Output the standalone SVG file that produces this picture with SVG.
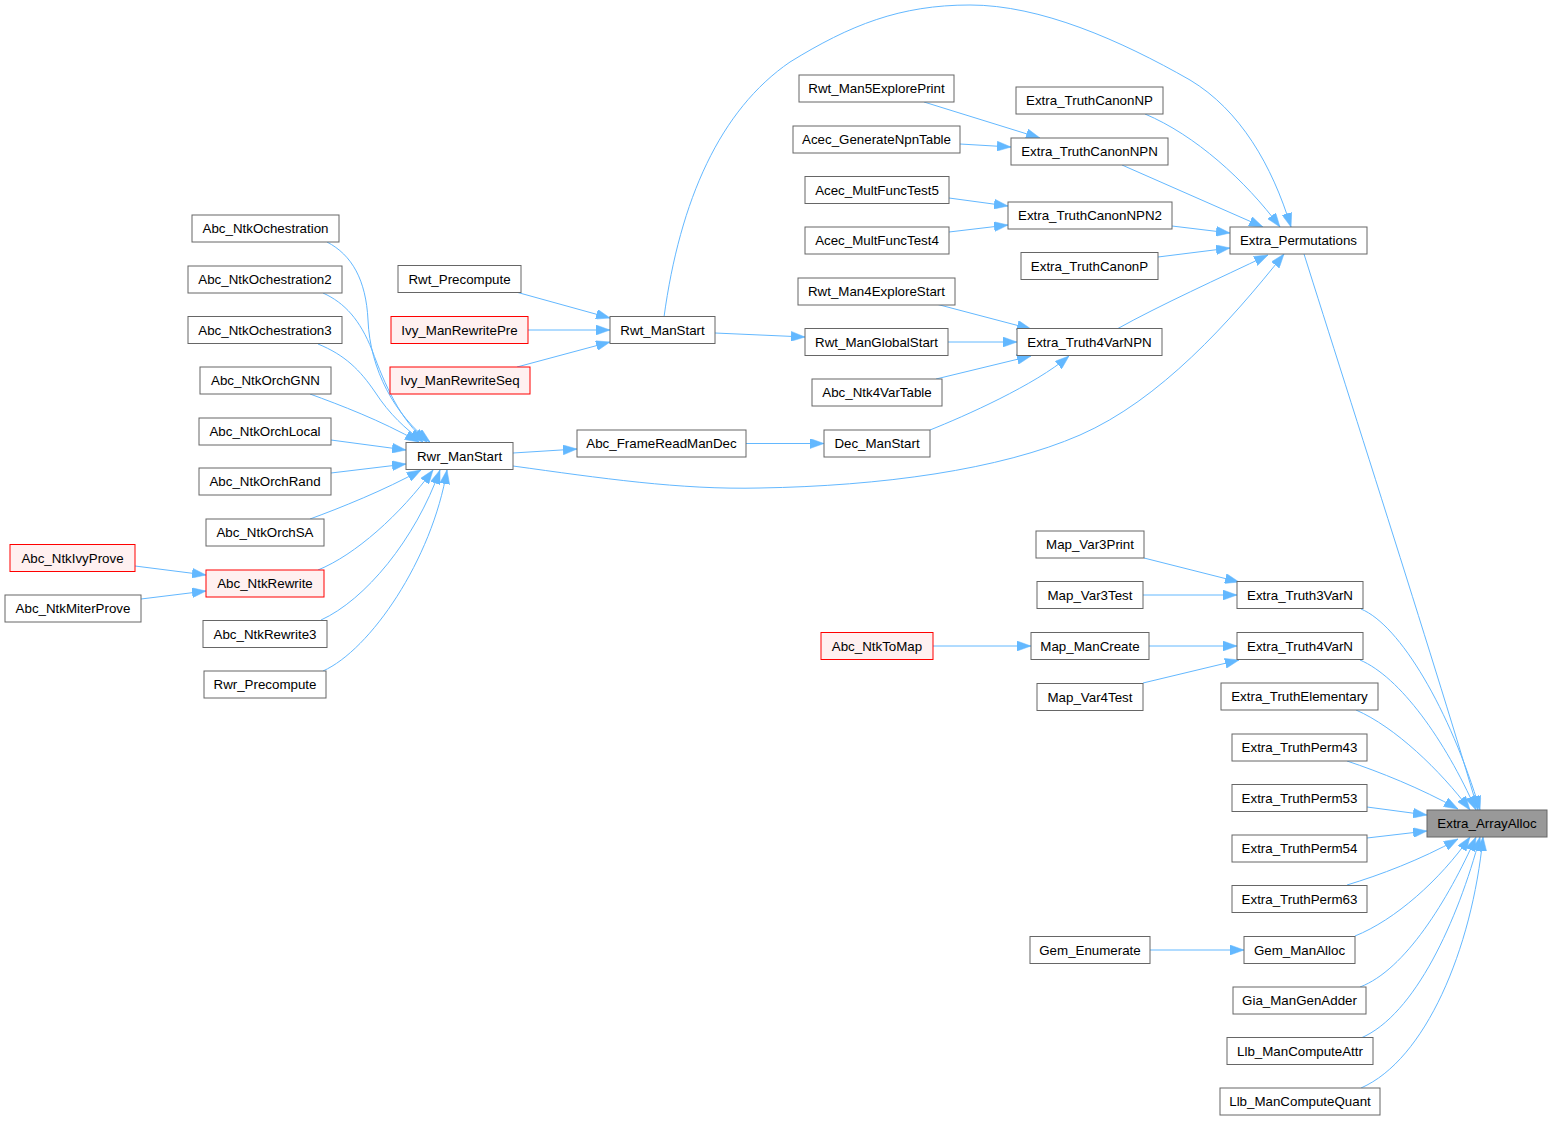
<svg xmlns="http://www.w3.org/2000/svg" width="1550" height="1121" viewBox="0 0 1550 1121">
<style>
.n rect{fill:#ffffff;stroke:#666666;stroke-width:1}
.r rect{fill:#fff0f0;stroke:#ff0000;stroke-width:1}
.g rect{fill:#999999;stroke:#666666;stroke-width:1}
text{font-family:"Liberation Sans",Arial,Helvetica,sans-serif;font-size:13.33px;text-anchor:middle;fill:#000000}
#edges path{fill:none;stroke:#63b8ff;stroke-width:1;marker-end:url(#ah)}
</style>
<defs>
<marker id="ah" viewBox="0 0 14 10" markerWidth="14" markerHeight="10" markerUnits="userSpaceOnUse" refX="14" refY="5" orient="auto">
<path d="M0,0 L14,5 L0,10 z" fill="#63b8ff" stroke="#63b8ff" stroke-width="0.5"/>
</marker>
</defs>
<rect x="0" y="0" width="1550" height="1121" fill="#ffffff"/>
<g id="edges">
<path d="M327,242 C352,255 366,280 368,320 C370,370 395,415 430,442"/>
<path d="M323,293 C345,303 360,320 372,350 C385,385 400,420 427,442"/>
<path d="M318,344 C345,355 360,370 375,392 C390,415 405,428 423,442"/>
<path d="M310,394 C340,405 380,420 419,442"/>
<path d="M331,440 L406,450"/>
<path d="M331,473 L406,464"/>
<path d="M310,519 C340,508 385,490 421,470"/>
<path d="M318,570 C355,555 400,515 433,470"/>
<path d="M321,620 C365,600 415,540 440,470"/>
<path d="M323,671 C370,650 432,560 447,470"/>
<path d="M135,566 L206,575"/>
<path d="M141,599 L206,591"/>
<path d="M513,453 L577,449"/>
<path d="M513,466 C600,478 680,490 760,488 C880,486 1000,470 1080,435 C1160,400 1230,322 1284,254"/>
<path d="M746,443.5 L824,443.5"/>
<path d="M930,430 C965,416 1035,385 1069,356"/>
<path d="M516,292 L610,318"/>
<path d="M528,330 L610,330"/>
<path d="M517,367 L610,342"/>
<path d="M715,333 L805,337"/>
<path d="M664,317 C680,200 720,110 790,62 C850,25 900,5 970,5 C1040,5 1120,40 1190,80 C1240,110 1272,165 1291,227"/>
<path d="M936,304 L1031,329"/>
<path d="M948,342 L1017,342"/>
<path d="M936,379 L1031,356"/>
<path d="M1117,329 C1160,305 1220,278 1268,255"/>
<path d="M924,102 L1040,138"/>
<path d="M960,144 L1011,147"/>
<path d="M949,198 L1008,206"/>
<path d="M949,232 L1008,225"/>
<path d="M1145,114 C1195,135 1245,180 1280,227"/>
<path d="M1122,165 L1263,227"/>
<path d="M1172,226 L1230,233"/>
<path d="M1158,257 L1230,248"/>
<path d="M1304,254 C1350,400 1440,680 1478,810"/>
<path d="M1144,558 L1239,582"/>
<path d="M1143,595 L1237,595"/>
<path d="M933,646 L1031,646"/>
<path d="M1149,646 L1237,646"/>
<path d="M1143,683 L1239,660"/>
<path d="M1150,950 L1244,950"/>
<path d="M1361,609 C1400,625 1450,710 1480,810"/>
<path d="M1360,660 C1400,677 1445,740 1476,810"/>
<path d="M1356,710 C1395,727 1440,770 1470,810"/>
<path d="M1347,761 C1380,772 1420,788 1458,809"/>
<path d="M1367,807 L1427,815"/>
<path d="M1367,838 L1427,831"/>
<path d="M1347,885 C1380,875 1420,860 1458,839"/>
<path d="M1355,936 C1395,920 1440,880 1470,837"/>
<path d="M1360,987 C1405,970 1448,900 1476,837"/>
<path d="M1361,1038 C1415,1015 1458,920 1480,837"/>
<path d="M1361,1088 C1425,1060 1472,950 1483,837"/>
</g>
<g id="n1" class="n"><rect x="192" y="215" width="147" height="27"/><text x="265.5" y="233">Abc_NtkOchestration</text></g>
<g id="n2" class="n"><rect x="188" y="266" width="154" height="27"/><text x="265" y="284">Abc_NtkOchestration2</text></g>
<g id="n3" class="n"><rect x="188" y="316.5" width="154" height="27"/><text x="265" y="334.5">Abc_NtkOchestration3</text></g>
<g id="n4" class="n"><rect x="200" y="367" width="131" height="27"/><text x="265.5" y="385">Abc_NtkOrchGNN</text></g>
<g id="n5" class="n"><rect x="199" y="418" width="132" height="27"/><text x="265" y="436">Abc_NtkOrchLocal</text></g>
<g id="n6" class="n"><rect x="199" y="468" width="132" height="27"/><text x="265" y="486">Abc_NtkOrchRand</text></g>
<g id="n7" class="n"><rect x="206" y="519" width="118" height="27"/><text x="265" y="537">Abc_NtkOrchSA</text></g>
<g id="n8" class="r"><rect x="206" y="570" width="118" height="27"/><text x="265" y="588">Abc_NtkRewrite</text></g>
<g id="n9" class="n"><rect x="203" y="620.5" width="124" height="27"/><text x="265" y="638.5">Abc_NtkRewrite3</text></g>
<g id="n10" class="n"><rect x="204" y="671" width="122" height="27"/><text x="265" y="689">Rwr_Precompute</text></g>
<g id="n11" class="r"><rect x="10" y="544.5" width="125" height="27"/><text x="72.5" y="562.5">Abc_NtkIvyProve</text></g>
<g id="n12" class="n"><rect x="5" y="595" width="136" height="27"/><text x="73" y="613">Abc_NtkMiterProve</text></g>
<g id="n13" class="n"><rect x="406" y="442.5" width="107" height="27"/><text x="459.5" y="460.5">Rwr_ManStart</text></g>
<g id="n14" class="n"><rect x="398" y="265.5" width="123" height="27"/><text x="459.5" y="283.5">Rwt_Precompute</text></g>
<g id="n15" class="r"><rect x="391" y="316.5" width="137" height="27"/><text x="459.5" y="334.5">Ivy_ManRewritePre</text></g>
<g id="n16" class="r"><rect x="390" y="367" width="140" height="27"/><text x="460" y="385">Ivy_ManRewriteSeq</text></g>
<g id="n17" class="n"><rect x="610" y="316.5" width="105" height="27"/><text x="662.5" y="334.5">Rwt_ManStart</text></g>
<g id="n18" class="n"><rect x="577" y="430" width="169" height="27"/><text x="661.5" y="448">Abc_FrameReadManDec</text></g>
<g id="n19" class="n"><rect x="824" y="430" width="106" height="27"/><text x="877" y="448">Dec_ManStart</text></g>
<g id="n20" class="n"><rect x="799" y="75" width="155" height="27"/><text x="876.5" y="93">Rwt_Man5ExplorePrint</text></g>
<g id="n21" class="n"><rect x="793" y="126" width="167" height="27"/><text x="876.5" y="144">Acec_GenerateNpnTable</text></g>
<g id="n22" class="n"><rect x="805" y="176.5" width="144" height="27"/><text x="877" y="194.5">Acec_MultFuncTest5</text></g>
<g id="n23" class="n"><rect x="805" y="227" width="144" height="27"/><text x="877" y="245">Acec_MultFuncTest4</text></g>
<g id="n24" class="n"><rect x="798" y="278" width="157" height="27"/><text x="876.5" y="296">Rwt_Man4ExploreStart</text></g>
<g id="n25" class="n"><rect x="805" y="328.5" width="143" height="27"/><text x="876.5" y="346.5">Rwt_ManGlobalStart</text></g>
<g id="n26" class="n"><rect x="812" y="379" width="130" height="27"/><text x="877" y="397">Abc_Ntk4VarTable</text></g>
<g id="n27" class="n"><rect x="1016" y="87" width="147" height="27"/><text x="1089.5" y="105">Extra_TruthCanonNP</text></g>
<g id="n28" class="n"><rect x="1011" y="138" width="157" height="27"/><text x="1089.5" y="156">Extra_TruthCanonNPN</text></g>
<g id="n29" class="n"><rect x="1008" y="202" width="164" height="27"/><text x="1090" y="220">Extra_TruthCanonNPN2</text></g>
<g id="n30" class="n"><rect x="1021" y="252.5" width="137" height="27"/><text x="1089.5" y="270.5">Extra_TruthCanonP</text></g>
<g id="n31" class="n"><rect x="1017" y="328.5" width="145" height="27"/><text x="1089.5" y="346.5">Extra_Truth4VarNPN</text></g>
<g id="n32" class="n"><rect x="1230" y="227" width="137" height="27"/><text x="1298.5" y="245">Extra_Permutations</text></g>
<g id="n33" class="g"><rect x="1427" y="810" width="120" height="27"/><text x="1487" y="828">Extra_ArrayAlloc</text></g>
<g id="n34" class="n"><rect x="1036" y="531" width="108" height="27"/><text x="1090" y="549">Map_Var3Print</text></g>
<g id="n35" class="n"><rect x="1037" y="581.5" width="106" height="27"/><text x="1090" y="599.5">Map_Var3Test</text></g>
<g id="n36" class="r"><rect x="821" y="632.5" width="112" height="27"/><text x="877" y="650.5">Abc_NtkToMap</text></g>
<g id="n37" class="n"><rect x="1031" y="632.5" width="118" height="27"/><text x="1090" y="650.5">Map_ManCreate</text></g>
<g id="n38" class="n"><rect x="1037" y="683.5" width="106" height="27"/><text x="1090" y="701.5">Map_Var4Test</text></g>
<g id="n39" class="n"><rect x="1237" y="581.5" width="126" height="27"/><text x="1300" y="599.5">Extra_Truth3VarN</text></g>
<g id="n40" class="n"><rect x="1237" y="632.5" width="126" height="27"/><text x="1300" y="650.5">Extra_Truth4VarN</text></g>
<g id="n41" class="n"><rect x="1221" y="683" width="157" height="27"/><text x="1299.5" y="701">Extra_TruthElementary</text></g>
<g id="n42" class="n"><rect x="1232" y="734" width="135" height="27"/><text x="1299.5" y="752">Extra_TruthPerm43</text></g>
<g id="n43" class="n"><rect x="1232" y="784.5" width="135" height="27"/><text x="1299.5" y="802.5">Extra_TruthPerm53</text></g>
<g id="n44" class="n"><rect x="1232" y="835" width="135" height="27"/><text x="1299.5" y="853">Extra_TruthPerm54</text></g>
<g id="n45" class="n"><rect x="1232" y="885.5" width="135" height="27"/><text x="1299.5" y="903.5">Extra_TruthPerm63</text></g>
<g id="n46" class="n"><rect x="1030" y="936.5" width="120" height="27"/><text x="1090" y="954.5">Gem_Enumerate</text></g>
<g id="n47" class="n"><rect x="1244" y="936.5" width="111" height="27"/><text x="1299.5" y="954.5">Gem_ManAlloc</text></g>
<g id="n48" class="n"><rect x="1233" y="987" width="133" height="27"/><text x="1299.5" y="1005">Gia_ManGenAdder</text></g>
<g id="n49" class="n"><rect x="1227" y="1037.5" width="146" height="27"/><text x="1300" y="1055.5">Llb_ManComputeAttr</text></g>
<g id="n50" class="n"><rect x="1220" y="1088" width="160" height="27"/><text x="1300" y="1106">Llb_ManComputeQuant</text></g>
</svg>
